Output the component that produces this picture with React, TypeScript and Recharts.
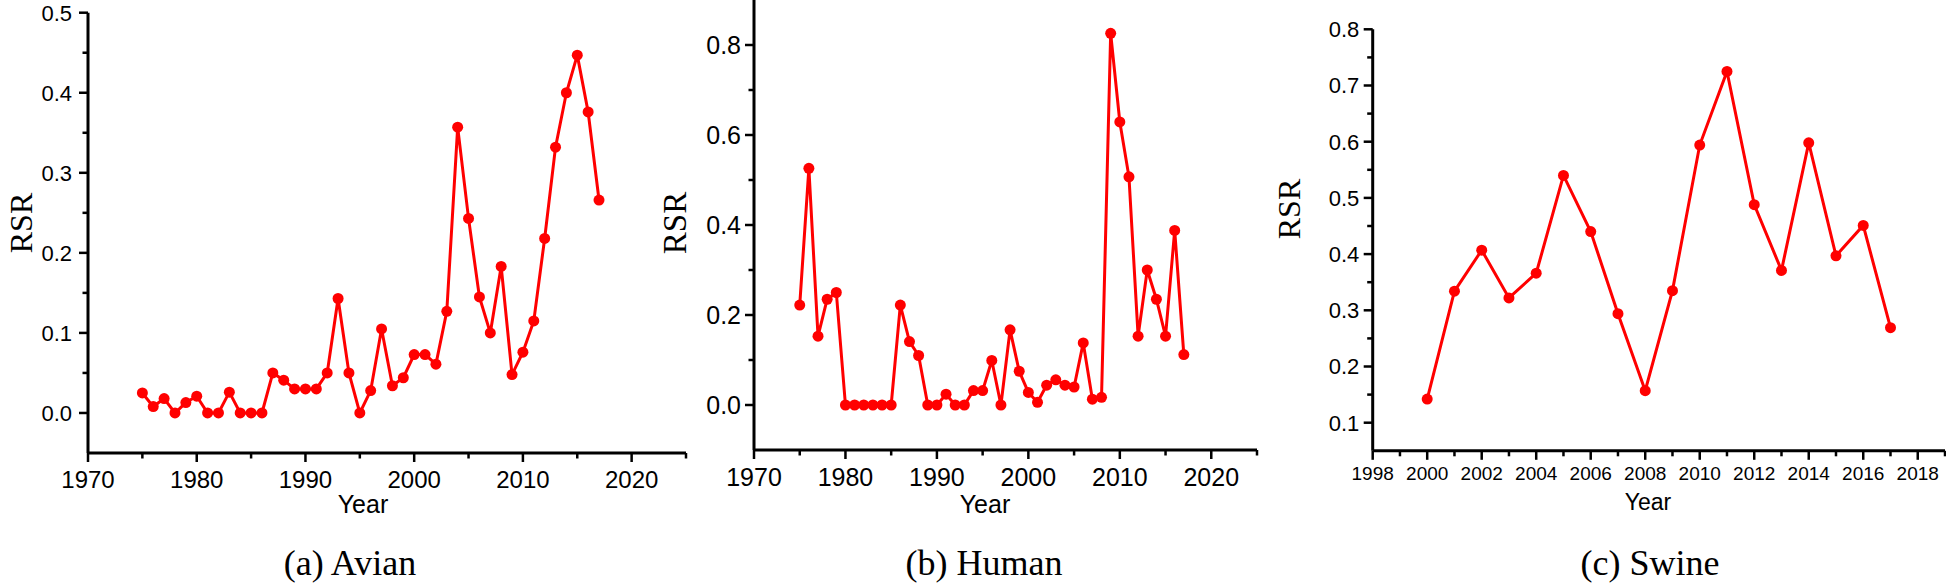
import React from "react";
import { LineChart, Line, XAxis, YAxis } from "recharts";

const avianYears = [
  1975, 1976, 1977, 1978, 1979, 1980, 1981, 1982, 1983, 1984, 1985, 1986, 1987, 1988, 1989,
  1990, 1991, 1992, 1993, 1994, 1995, 1996, 1997, 1998, 1999, 2000, 2001, 2002, 2003, 2004,
  2005, 2006, 2007, 2008, 2009, 2010, 2011, 2012, 2013, 2014, 2015, 2016, 2017,
];
const avianRsr = [
  0.025, 0.008, 0.018, 0, 0.013, 0.021, 0, 0, 0.026, 0, 0, 0, 0.05, 0.041, 0.03,
  0.03, 0.03, 0.05, 0.143, 0.05, 0, 0.028, 0.105, 0.034, 0.044, 0.073, 0.073, 0.061, 0.127, 0.357,
  0.243, 0.145, 0.1, 0.183, 0.048, 0.076, 0.115, 0.218, 0.332, 0.4, 0.447, 0.376, 0.266,
];

const humanYears = avianYears;
const humanRsr = [
  0.222, 0.526, 0.153, 0.235, 0.25, 0, 0, 0, 0, 0, 0, 0.222, 0.141, 0.11, 0,
  0, 0.024, 0, 0, 0.032, 0.032, 0.099, 0, 0.167, 0.075, 0.028, 0.006, 0.044, 0.056, 0.044,
  0.04, 0.138, 0.013, 0.017, 0.826, 0.629, 0.507, 0.153, 0.3, 0.235, 0.153, 0.388, 0.112,
];

const swineYears = [
  2000, 2001, 2002, 2003, 2004, 2005, 2006, 2007, 2008, 2009, 2010, 2011, 2012, 2013, 2014,
  2015, 2016, 2017,
];
const swineRsr = [
  0.142, 0.334, 0.407, 0.322, 0.366, 0.54, 0.44, 0.294, 0.157, 0.335, 0.594, 0.725, 0.488,
  0.371, 0.598, 0.397, 0.451, 0.269,
];

// ticks (all) and the labelled ones
const decadeTicks = [1970, 1975, 1980, 1985, 1990, 1995, 2000, 2005, 2010, 2015, 2020, 2025];
const decadeLabels = [1970, 1980, 1990, 2000, 2010, 2020];
const swineXTicks = [
  1998, 1999, 2000, 2001, 2002, 2003, 2004, 2005, 2006, 2007, 2008, 2009, 2010, 2011, 2012,
  2013, 2014, 2015, 2016, 2017, 2018, 2019,
];
const swineXLabels = [1998, 2000, 2002, 2004, 2006, 2008, 2010, 2012, 2014, 2016, 2018];
const avianYTicks = [0, 0.05, 0.1, 0.15, 0.2, 0.25, 0.3, 0.35, 0.4, 0.45, 0.5];
const avianYLabels = [0, 0.1, 0.2, 0.3, 0.4, 0.5];
const humanYTicks = [0, 0.1, 0.2, 0.3, 0.4, 0.5, 0.6, 0.7, 0.8];
const humanYLabels = [0, 0.2, 0.4, 0.6, 0.8];
const swineYTicks = [0.1, 0.15, 0.2, 0.25, 0.3, 0.35, 0.4, 0.45, 0.5, 0.55, 0.6, 0.65, 0.7, 0.75, 0.8];
const swineYLabels = [0.1, 0.2, 0.3, 0.4, 0.5, 0.6, 0.7, 0.8];

const SANS = "'Liberation Sans', Arial, sans-serif";
const NARROW = "'Liberation Sans Narrow', 'Arial Narrow', 'Liberation Sans', sans-serif";
const SERIF = "'Liberation Serif', 'Times New Roman', serif";
const RED = "#ff0000";

type TickStyle = { font: string; size: number; gap: number };

function XTick(props: any) {
  const { x, y, payload, labels, st } = props;
  const major = labels.includes(payload.value);
  return (
    <g>
      <line x1={x} x2={x} y1={y} y2={y + (major ? 9 : 5.5)} stroke="#000" strokeWidth={2.5} />
      {major && (
        <text x={x} y={y + st.gap} textAnchor="middle" fontFamily={st.font} fontSize={st.size} fill="#000">
          {payload.value}
        </text>
      )}
    </g>
  );
}

function YTick(props: any) {
  const { x, y, payload, labels, st } = props;
  const major = labels.includes(payload.value);
  return (
    <g>
      <line x1={x} x2={x - (major ? 9 : 5.5)} y1={y} y2={y} stroke="#000" strokeWidth={2.5} />
      {major && (
        <text x={x - st.gap} y={y} dy="0.36em" textAnchor="end" fontFamily={st.font} fontSize={st.size} fill="#000">
          {payload.value.toFixed(1)}
        </text>
      )}
    </g>
  );
}

function Panel(p: {
  left: number; width: number; plotLeft: number; plotRight: number; plotTop: number; plotBottom: number;
  years: number[]; values: number[];
  xDomain: number[]; xTicks: number[]; xLabels: number[]; xStyle: TickStyle;
  yDomain: number[]; yTicks: number[]; yLabels: number[]; yStyle: TickStyle;
}) {
  const data = p.years.map((year, i) => ({ year, rsr: p.values[i] }));
  const H = 585;
  return (
    <div style={{ position: "absolute", left: p.left, top: 0 }}>
      <LineChart
        width={p.width}
        height={H}
        data={data}
        margin={{
          top: p.plotTop,
          left: p.plotLeft - p.left - 60,
          right: p.left + p.width - p.plotRight,
          bottom: H - p.plotBottom - 40,
        }}
      >
        <XAxis
          dataKey="year"
          type="number"
          domain={p.xDomain}
          ticks={p.xTicks}
          interval={0}
          height={40}
          allowDataOverflow
          tickLine={false}
          tickSize={0}
          tickMargin={0}
          axisLine={{ stroke: "#000", strokeWidth: 3 }}
          tick={(t: any) => <XTick {...t} labels={p.xLabels} st={p.xStyle} />}
        />
        <YAxis
          type="number"
          domain={p.yDomain}
          ticks={p.yTicks}
          interval={0}
          width={60}
          allowDataOverflow
          tickLine={false}
          tickSize={0}
          tickMargin={0}
          axisLine={{ stroke: "#000", strokeWidth: 3 }}
          tick={(t: any) => <YTick {...t} labels={p.yLabels} st={p.yStyle} />}
        />
        <Line
          dataKey="rsr"
          type="linear"
          stroke={RED}
          strokeWidth={3}
          dot={{ r: 5.5, fill: RED, stroke: RED, strokeWidth: 0 }}
          isAnimationActive={false}
        />
      </LineChart>
    </div>
  );
}

function Txt(p: { x: number; top: number; size: number; font: string; children: React.ReactNode; rotate?: boolean }) {
  return (
    <div
      style={{
        position: "absolute",
        left: p.x,
        top: p.top,
        fontFamily: p.font,
        fontSize: p.size,
        lineHeight: p.rotate ? 0.72 : 1,
        whiteSpace: "nowrap",
        color: "#000",
        writingMode: p.rotate ? "vertical-rl" : undefined,
        transform: p.rotate ? "translate(-50%, -50%) rotate(180deg)" : "translateX(-50%)",
      }}
    >
      {p.children}
    </div>
  );
}

export default function App() {
  return (
    <div style={{ position: "absolute", left: 0, top: 0, width: 1946, height: 585, background: "#fff", overflow: "hidden" }}>
      <Panel
        left={0} width={690} plotLeft={88} plotRight={686} plotTop={12.7} plotBottom={453}
        years={avianYears} values={avianRsr}
        xDomain={[1970, 2025]} xTicks={decadeTicks} xLabels={decadeLabels} xStyle={{ font: SANS, size: 24, gap: 35 }}
        yDomain={[-0.05, 0.5]} yTicks={avianYTicks} yLabels={avianYLabels} yStyle={{ font: SANS, size: 22, gap: 16 }}
      />
      <Panel
        left={690} width={600} plotLeft={754} plotRight={1257} plotTop={0} plotBottom={450}
        years={humanYears} values={humanRsr}
        xDomain={[1970, 2025]} xTicks={decadeTicks} xLabels={decadeLabels} xStyle={{ font: NARROW, size: 25, gap: 35.5 }}
        yDomain={[-0.1, 0.9]} yTicks={humanYTicks} yLabels={humanYLabels} yStyle={{ font: NARROW, size: 25, gap: 13 }}
      />
      <Panel
        left={1290} width={656} plotLeft={1372.7} plotRight={1945} plotTop={29.3} plotBottom={450.8}
        years={swineYears} values={swineRsr}
        xDomain={[1998, 2019]} xTicks={swineXTicks} xLabels={swineXLabels} xStyle={{ font: SANS, size: 19, gap: 29 }}
        yDomain={[0.05, 0.8]} yTicks={swineYTicks} yLabels={swineYLabels} yStyle={{ font: SANS, size: 22, gap: 13.4 }}
      />

      <Txt x={22} top={223} size={32} font={SERIF} rotate>RSR</Txt>
      <Txt x={676} top={223} size={33} font={SERIF} rotate>RSR</Txt>
      <Txt x={1290} top={209} size={32} font={SERIF} rotate>RSR</Txt>

      <Txt x={363} top={492} size={25} font={SANS}>Year</Txt>
      <Txt x={985} top={492} size={25} font={NARROW}>Year</Txt>
      <Txt x={1648} top={490.5} size={23} font={SANS}>Year</Txt>

      <Txt x={350} top={545} size={36} font={SERIF}>(a) Avian</Txt>
      <Txt x={984} top={545} size={36} font={SERIF}>(b) Human</Txt>
      <Txt x={1650} top={545} size={36} font={SERIF}>(c) Swine</Txt>
    </div>
  );
}
